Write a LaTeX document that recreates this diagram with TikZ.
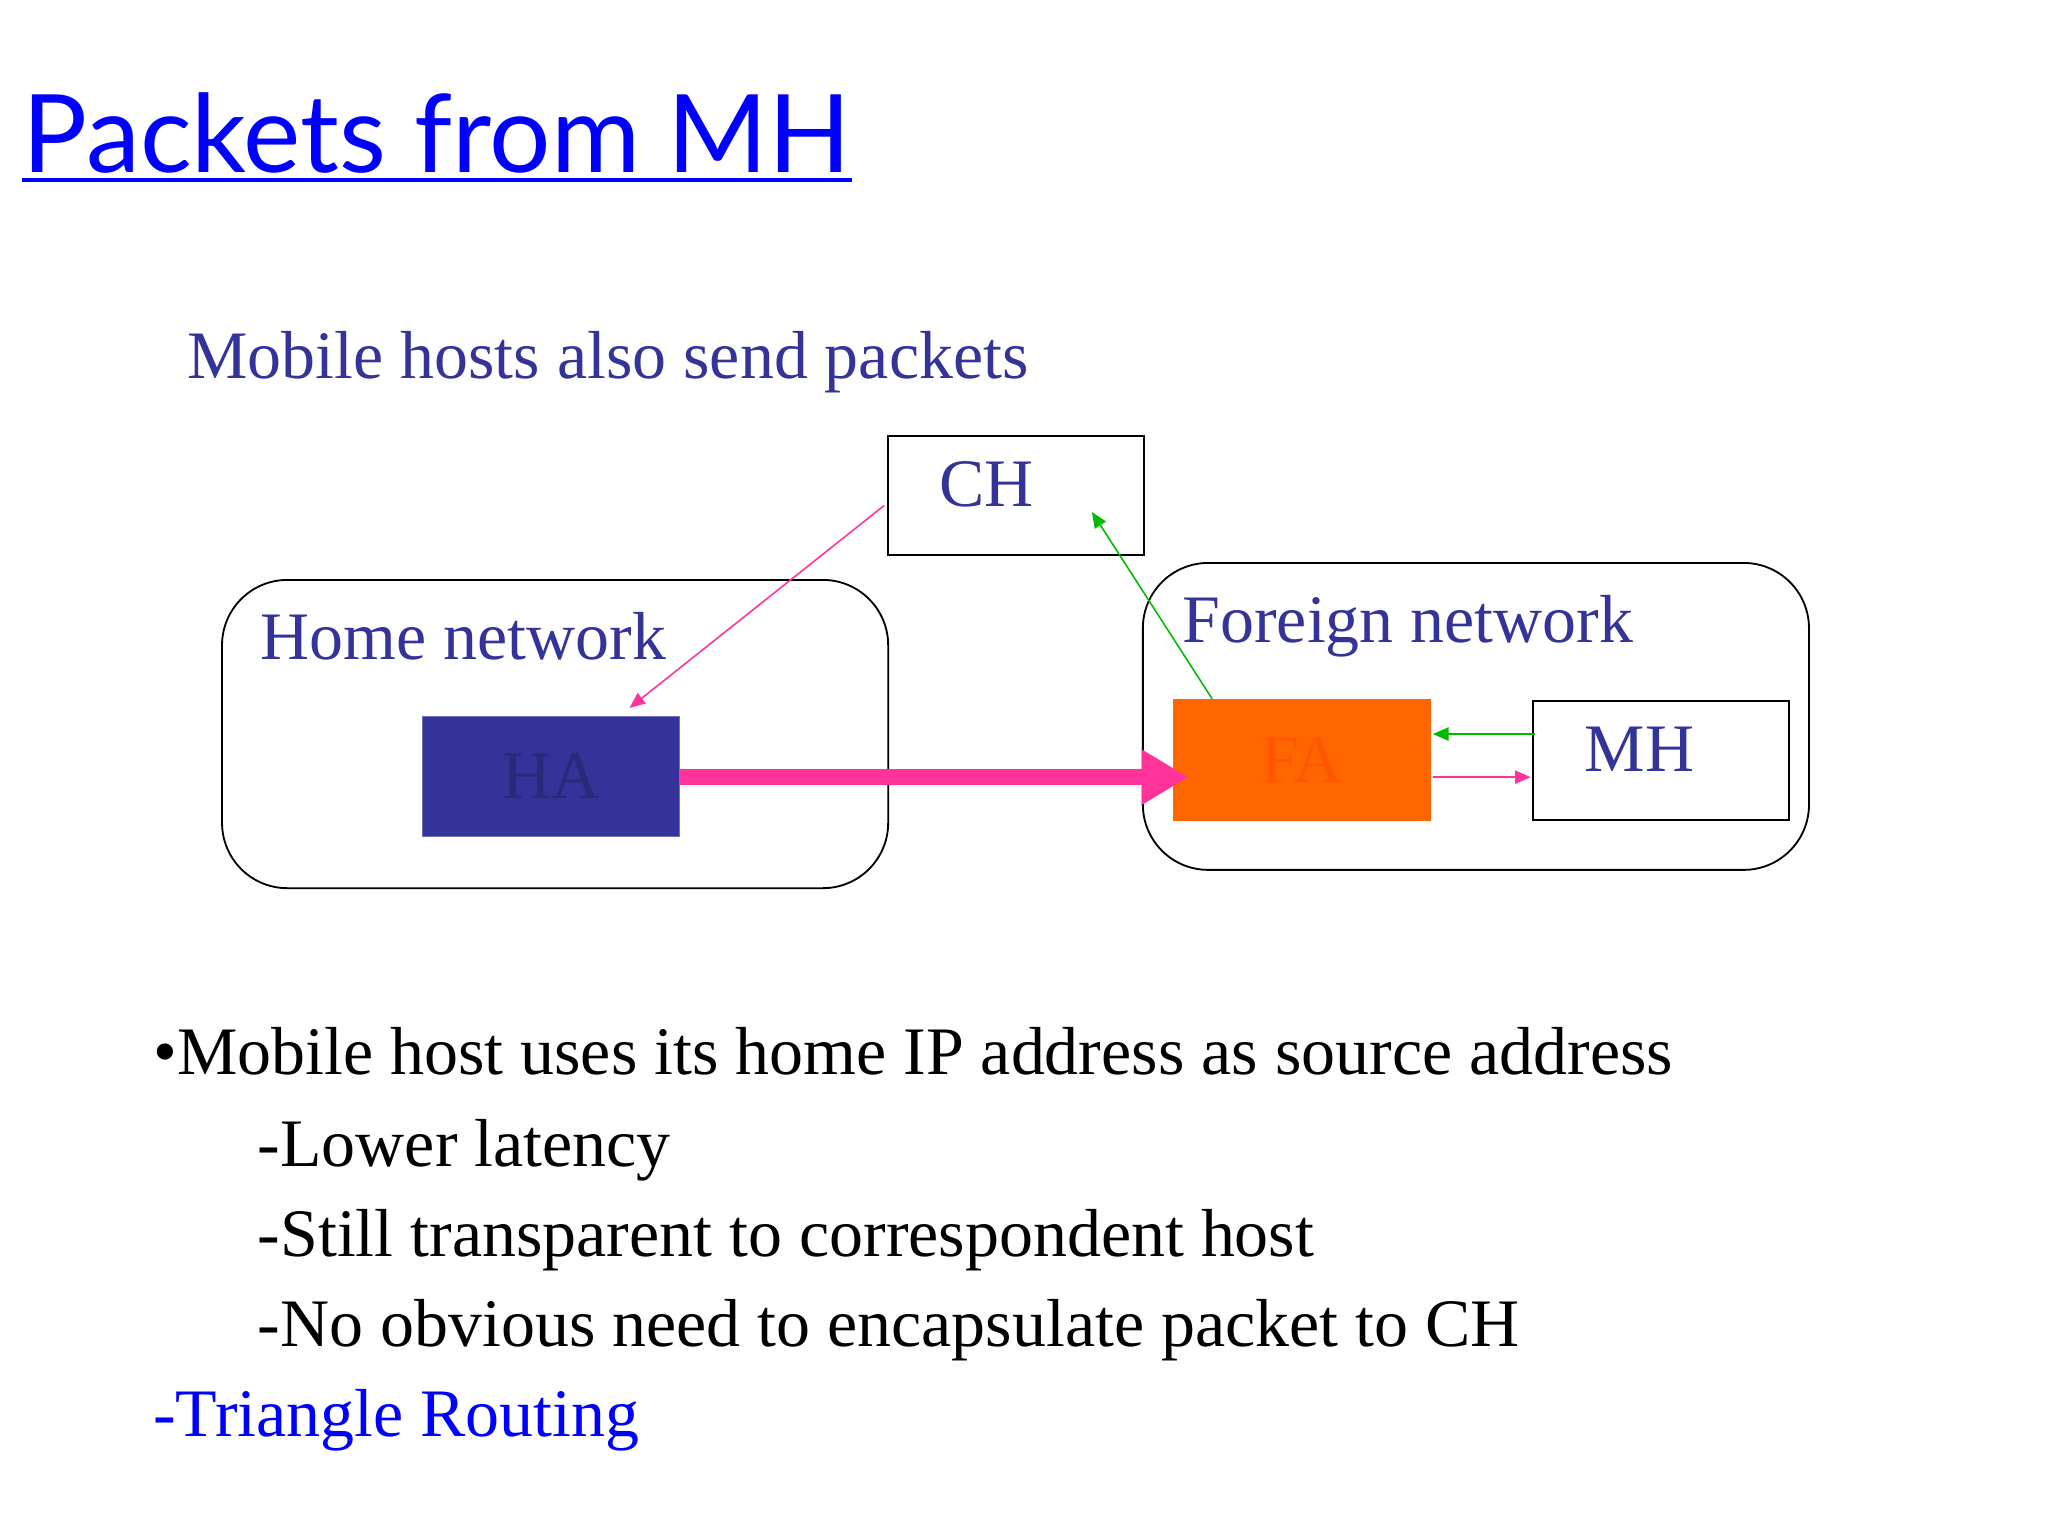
\documentclass[tikz,border=0pt]{standalone}
\usepackage{fontspec}
\setmainfont{Liberation Serif}
\newfontfamily\titlefont{Lato}
\usetikzlibrary{arrows.meta}
\definecolor{dblue}{HTML}{333399}
\definecolor{bblue}{HTML}{0000FF}
\definecolor{hpink}{HTML}{FF3399}
\definecolor{gr}{HTML}{00BB00}
\definecolor{orng}{HTML}{FF6600}
\tikzset{
  lbl/.style={anchor=base west,inner sep=0pt,font=\fontsize{26}{30}\selectfont},
  boxw/.style={draw=black,line width=0.7pt},
  net/.style={draw=black,line width=0.7pt,rounded corners=25pt},
}
\begin{document}
\begin{tikzpicture}[x=0.5pt,y=-0.5pt]
\useasboundingbox (0,0) rectangle (1568,1176);
\node[lbl,font=\titlefont\fontsize{41.5}{44}\selectfont,text=bblue] (title) at (17,132) {Packets from MH};
\draw[bblue,line width=1.6pt] (17,138) -- (652,138);
\node[lbl,text=dblue] (sub) at (143,290) {Mobile hosts also send packets};
\draw[net] (170,444) rectangle (680,680);
\node[lbl,text=dblue] (home) at (199,505) {Home network};
\draw[net] (875,431) rectangle (1385,666);
\node[lbl,text=dblue] (foreign) at (905,492) {Foreign network};
\node[boxw,minimum width=98pt,minimum height=45.5pt,anchor=north west] (CH) at (679,333) {};
\node[lbl,text=dblue] at (719,388) {CH};
\node[fill=dblue,draw=dblue!70,minimum width=98.5pt,minimum height=46pt,anchor=north west,text=dblue!80!black,font=\fontsize{26}{30}\selectfont] (HA) at (323,548) {HA};
\node[fill=orng,minimum width=98.5pt,minimum height=46.5pt,anchor=north west,text=orng!85!red,font=\fontsize{26}{30}\selectfont] (FA) at (898,535) {FA};
\node[boxw,minimum width=98pt,minimum height=45.5pt,anchor=north west] (MH) at (1173,536) {};
\node[lbl,text=dblue] at (1213,591) {MH};
\coordinate (hae) at (520,595);
\coordinate (fat) at (910,595);
\draw[hpink,line width=6pt,-{Triangle[length=18pt,width=20pt]}] (hae) -- (fat);
\coordinate (chs) at (677,387);
\coordinate (hat) at (482,542);
\draw[hpink,line width=0.6pt,-{Triangle[length=6pt,width=5pt]}] (chs) -- (hat);
\coordinate (fas) at (928,535);
\coordinate (cht) at (836,392);
\draw[gr,line width=0.6pt,-{Triangle[length=6pt,width=5pt]}] (fas) -- (cht);
\coordinate (mhg) at (1175,562);
\coordinate (fag) at (1097,562);
\draw[gr,line width=0.8pt,-{Triangle[length=6pt,width=5pt]}] (mhg) -- (fag);
\coordinate (fap) at (1097,595);
\coordinate (mhp) at (1172,595);
\draw[hpink,line width=0.8pt,-{Triangle[length=6pt,width=5pt]}] (fap) -- (mhp);
\node[lbl] (b1) at (117,823) {\textbullet Mobile host uses its home IP address as source address};
\node[lbl] (b2) at (197,893) {-Lower latency};
\node[lbl] (b3) at (197,962) {-Still transparent to correspondent host};
\node[lbl] (b4) at (197,1031) {-No obvious need to encapsulate packet to CH};
\node[lbl,text=bblue] (b5) at (117,1100) {-Triangle Routing};
\end{tikzpicture}
\end{document}
